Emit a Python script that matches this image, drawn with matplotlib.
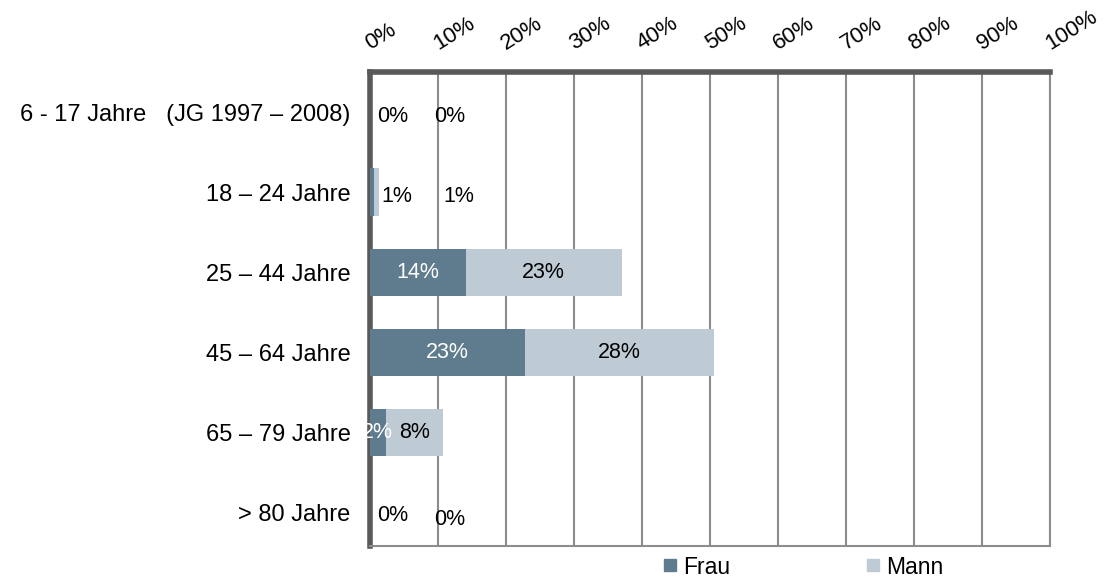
import matplotlib.pyplot as plt
import numpy as np
from matplotlib.lines import Line2D

plt.rcParams['font.family'] = ['Liberation Sans', 'DejaVu Sans']

# Altersgruppen und Anteile in Prozent
groups = ["6 - 17 Jahre   (JG 1997 – 2008)", "18 – 24 Jahre", "25 – 44 Jahre",
          "45 – 64 Jahre", "65 – 79 Jahre", "> 80 Jahre"]
frau = [0.0, 0.6, 14.1, 22.8, 2.3, 0.0]
mann = [0.0, 0.7, 22.9, 27.8, 8.4, 0.0]
xticks = np.arange(0, 101, 10)

col_frau = "#5f7c8e"
col_mann = "#bfcbd4"

fig = plt.figure(figsize=(11.1, 5.78), dpi=100)
ax = fig.add_axes([0.3333, 0.0554, 0.6126, 0.82])

y = np.arange(len(groups))
ax.barh(y, frau, height=0.59, color=col_frau, zorder=3)
ax.barh(y, mann, left=frau, height=0.59, color=col_mann, zorder=3)

# Datenbeschriftungen: mittig im Segment, bei sehr schmalen Segmenten daneben
lab_fs = 15.5
for i in range(len(groups)):
    f, m = frau[i], mann[i]
    dy = 0.05 if i in (0, 1) else 0.0
    if f >= 1.5:
        ax.text(f / 2, i, f"{f:.0f}%", ha="center", va="center",
                color="white", fontsize=lab_fs, zorder=4)
    else:
        ax.text(3.3 + f, i + dy + (0.04 if i == 5 else 0), f"{f:.0f}%",
                ha="center", va="center", color="black", fontsize=lab_fs, zorder=4)
    if m >= 1.5:
        ax.text(f + m / 2, i, f"{m:.0f}%", ha="center", va="center",
                color="black", fontsize=lab_fs, zorder=4)
    else:
        ax.text(11.7 + f + m, i + dy + (0.09 if i == 5 else 0), f"{m:.0f}%",
                ha="center", va="center", color="black", fontsize=lab_fs, zorder=4)

ax.set_xlim(0, 100)
ax.set_ylim(5.42, -0.5)
ax.set_yticks(y)
ax.set_yticklabels(groups, fontsize=17)
ax.set_xticks(xticks)
ax.set_xticklabels([f"{t}%" for t in xticks], fontsize=16, rotation=32,
                   ha="left", va="baseline", rotation_mode="anchor")
ax.xaxis.tick_top()
ax.tick_params(axis="x", length=0, pad=16)
ax.tick_params(axis="y", length=0, pad=14)

ax.grid(axis="x", color="#8c8c8c", linewidth=1.5, zorder=0)
ax.grid(axis="y", visible=False)

ax.spines["left"].set_color("#595959")
ax.spines["left"].set_linewidth(4)
ax.spines["top"].set_color("#595959")
ax.spines["top"].set_linewidth(4)
ax.spines["right"].set_color("#8c8c8c")
ax.spines["right"].set_linewidth(1.5)
ax.spines["bottom"].set_color("#8c8c8c")
ax.spines["bottom"].set_linewidth(1.5)

handles = [Line2D([], [], marker="s", linestyle="", markersize=9,
                  color=col_frau, label="Frau"),
           Line2D([], [], marker="s", linestyle="", markersize=9,
                  color=col_mann, label="Mann")]
fig.legend(handles=handles, loc="center", bbox_to_anchor=(0.7235, 0.019),
           ncol=2, frameon=False, fontsize=16.5, handlelength=0.6,
           handletextpad=0.3, columnspacing=5.9, borderpad=0)

plt.savefig("out.png", dpi=100)
